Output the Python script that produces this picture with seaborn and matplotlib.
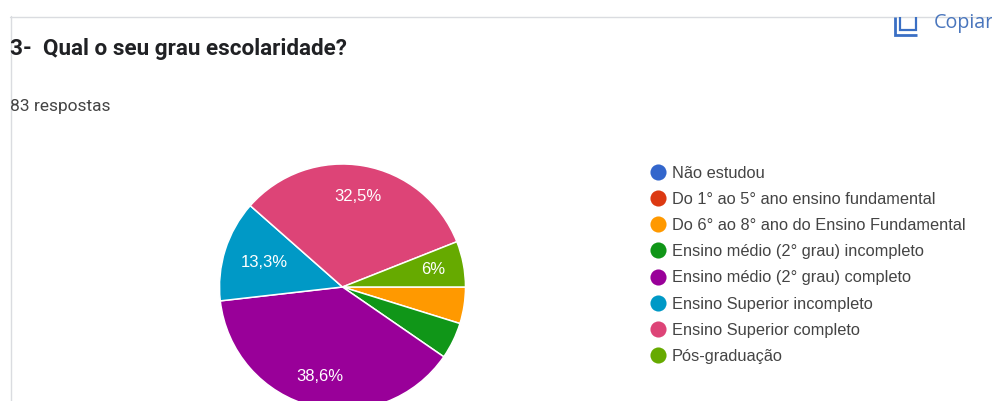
import matplotlib
matplotlib.use("Agg")
import matplotlib.pyplot as plt
import seaborn as sns
from matplotlib.lines import Line2D
from matplotlib.patches import Rectangle

categories = [
    "Não estudou",
    "Do 1° ao 5° ano ensino fundamental",
    "Do 6° ao 8° ano do Ensino Fundamental",
    "Ensino médio (2° grau) incompleto",
    "Ensino médio (2° grau) completo",
    "Ensino Superior incompleto",
    "Ensino Superior completo",
    "Pós-graduação",
]
shares = [0, 0, 4.8, 4.8, 38.6, 13.3, 32.5, 6.0]
slice_colors = ["#3366cc", "#dc3912", "#ff9900", "#109618",
                "#990099", "#0099c6", "#dd4477", "#66aa00"]
title_text = "3-  Qual o seu grau escolaridade?"
responses_text = "83 respostas"
action_text = "Copiar"

W, H = 992, 401
sns.set_theme(style="white")
palette = sns.color_palette(slice_colors)

fig = plt.figure(figsize=(W / 100, H / 100), dpi=100, facecolor="white")

# Page layer measured in pixels, with the origin at the top left
page = fig.add_axes([0, 0, 1, 1])
page.set_xlim(0, W)
page.set_ylim(H, 0)
page.axis("off")

border = "#dadce0"
page.plot([10, W], [16.5, 16.5], color=border, lw=1.0)
page.plot([10.5, 10.5], [16, H], color=border, lw=1.0)

page.text(10, 48.5, title_text, family="Roboto", weight="bold", fontsize=16.2,
          color="#202124", va="center", ha="left")
page.text(10, 107, responses_text, family="Roboto", fontsize=12.5,
          color="#444444", va="center", ha="left")

# Copy button, cut off by the card's top edge
blue = "#3a6fc4"
page.plot([894.5, 894.5, 917], [17, 35, 35], color=blue, lw=2.0, solid_capstyle="butt",
          solid_joinstyle="miter")
page.plot([900, 900, 916, 916], [17, 30, 30, 17], color=blue, lw=1.6,
          solid_capstyle="butt", solid_joinstyle="miter")
copy_label = page.text(934, 23, action_text, family="Open Sans", fontsize=14.2,
                       color="#4a76bd", va="center", ha="left")
copy_label.set_clip_path(Rectangle((0, 17), W, H, transform=page.transData))

# Pie, with its lower edge running past the bottom of the figure
cx, cy, r = 342.5, 287.0, 123.0
pie_ax = fig.add_axes([(cx - r) / W, 1 - (cy + r) / H, 2 * r / W, 2 * r / H])
pie_ax.patch.set_alpha(0)


def share_label(pct):
    if pct < 5:
        return ""
    return f"{pct:.1f}".rstrip("0").rstrip(".").replace(".", ",") + "%"


wedges, _, autotexts = pie_ax.pie(
    shares, colors=palette, startangle=0, counterclock=False, radius=1,
    autopct=share_label, pctdistance=0.75,
    wedgeprops=dict(edgecolor="white", linewidth=1.1),
    textprops=dict(color="white", family="Liberation Sans", fontsize=12),
)
pie_ax.set_xlim(-1, 1)
pie_ax.set_ylim(-1, 1)
for wedge in wedges:
    wedge.set_clip_on(False)
# The narrow blue slice carries its label a little nearer the centre
autotexts[5].set_position((autotexts[5].get_position()[0] * 0.89,
                           autotexts[5].get_position()[1] * 0.89))

handles = [Line2D([], [], linestyle="none", marker="o", markersize=11.6,
                  markerfacecolor=c, markeredgecolor="none") for c in palette]
page.legend(
    handles, categories, loc="upper left",
    bbox_to_anchor=(648 / W, 1 - 165.5 / H), bbox_transform=fig.transFigure,
    frameon=False, borderpad=0, borderaxespad=0, handletextpad=0.25,
    handlelength=1.2, labelspacing=0.685,
    prop=dict(family="Liberation Sans", size=11.8), labelcolor="#444444",
)

fig.savefig("out.png", dpi=100, facecolor="white")
